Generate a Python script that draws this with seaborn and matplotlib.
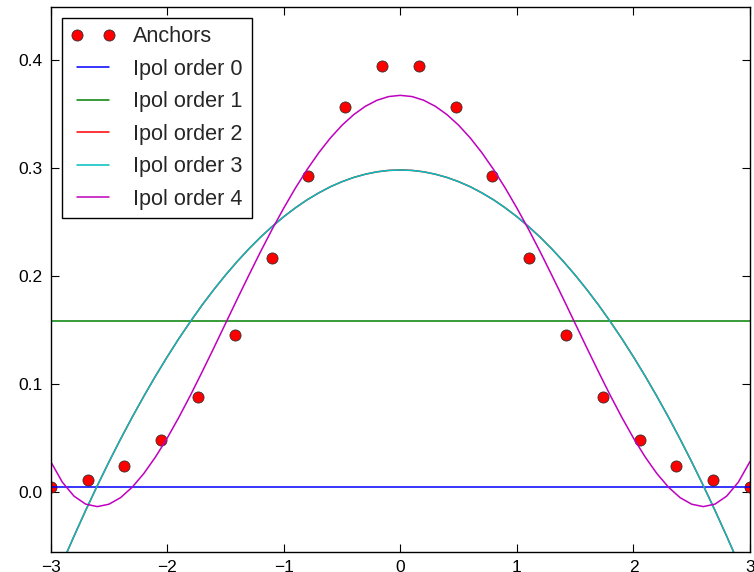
import matplotlib
matplotlib.use("Agg")
import matplotlib.pyplot as plt
import seaborn as sns

# anchor points
anchor_x = [-3.0, -2.684, -2.368, -2.053, -1.737, -1.421, -1.105, -0.789, -0.474, -0.158,
            0.158, 0.474, 0.789, 1.105, 1.421, 1.737, 2.053, 2.368, 2.684, 3.0]
anchor_y = [0.0044, 0.0109, 0.0241, 0.0486, 0.0883, 0.1453, 0.2166, 0.2921, 0.3566, 0.3940,
            0.3940, 0.3566, 0.2921, 0.2166, 0.1453, 0.0883, 0.0486, 0.0241, 0.0109, 0.0044]

# constant interpolants
order0_x = [-3.0, 3.0]
order0_y = [0.0044, 0.0044]
order1_x = [-3.0, 3.0]
order1_y = [0.158, 0.158]

# curve samples
curve_x = [-3.0, -2.9, -2.8, -2.7, -2.6, -2.5, -2.4, -2.3, -2.2, -2.1,
           -2.0, -1.9, -1.8, -1.7, -1.6, -1.5, -1.4, -1.3, -1.2, -1.1,
           -1.0, -0.9, -0.8, -0.7, -0.6, -0.5, -0.4, -0.3, -0.2, -0.1,
           0.0,
           0.1, 0.2, 0.3, 0.4, 0.5, 0.6, 0.7, 0.8, 0.9, 1.0,
           1.1, 1.2, 1.3, 1.4, 1.5, 1.6, 1.7, 1.8, 1.9, 2.0,
           2.1, 2.2, 2.3, 2.4, 2.5, 2.6, 2.7, 2.8, 2.9, 3.0]
order2_y = [-0.0908, -0.0653, -0.0407, -0.0169, 0.0060, 0.0280, 0.0492, 0.0695, 0.0889, 0.1075,
            0.1252, 0.1421, 0.1580, 0.1732, 0.1874, 0.2008, 0.2133, 0.2250, 0.2358, 0.2457,
            0.2548, 0.2630, 0.2704, 0.2768, 0.2825, 0.2872, 0.2911, 0.2941, 0.2963, 0.2976,
            0.2980,
            0.2976, 0.2963, 0.2941, 0.2911, 0.2872, 0.2825, 0.2768, 0.2704, 0.2630, 0.2548,
            0.2457, 0.2358, 0.2250, 0.2133, 0.2008, 0.1874, 0.1732, 0.1580, 0.1421, 0.1252,
            0.1075, 0.0889, 0.0695, 0.0492, 0.0280, 0.0060, -0.0169, -0.0407, -0.0653, -0.0908]
order3_y = list(order2_y)
order4_y = [0.0284, 0.0093, -0.0036, -0.0110, -0.0133, -0.0111, -0.0050, 0.0047, 0.0174, 0.0327,
            0.0501, 0.0693, 0.0898, 0.1114, 0.1335, 0.1560, 0.1785, 0.2006, 0.2223, 0.2431,
            0.2628, 0.2813, 0.2984, 0.3139, 0.3276, 0.3394, 0.3492, 0.3569, 0.3625, 0.3659,
            0.3670,
            0.3659, 0.3625, 0.3569, 0.3492, 0.3394, 0.3276, 0.3139, 0.2984, 0.2813, 0.2628,
            0.2431, 0.2223, 0.2006, 0.1785, 0.1560, 0.1335, 0.1114, 0.0898, 0.0693, 0.0501,
            0.0327, 0.0174, 0.0047, -0.0050, -0.0111, -0.0133, -0.0110, -0.0036, 0.0093, 0.0284]

sns.set_style("ticks")
plt.rcParams["font.family"] = ["Liberation Sans", "DejaVu Sans"]

fig = plt.figure(figsize=(7.54, 5.72), dpi=100)
ax = fig.add_axes([0.0672, 0.0355, 0.9275, 0.9528])

lw = 1.1
sns.lineplot(x=anchor_x, y=anchor_y, ax=ax, color="red", marker="o", linestyle="",
             markersize=8, markeredgecolor="#333333", markeredgewidth=0.6,
             label="Anchors", estimator=None, sort=False)
sns.lineplot(x=order0_x, y=order0_y, ax=ax, color="blue", lw=lw, label="Ipol order 0", estimator=None)
sns.lineplot(x=order1_x, y=order1_y, ax=ax, color="green", lw=lw, label="Ipol order 1", estimator=None)
sns.lineplot(x=curve_x, y=order2_y, ax=ax, color="red", lw=lw, label="Ipol order 2", estimator=None)
sns.lineplot(x=curve_x, y=order3_y, ax=ax, color=(0, 0.75, 0.75), lw=lw, label="Ipol order 3", estimator=None)
sns.lineplot(x=curve_x, y=order4_y, ax=ax, color=(0.75, 0, 0.75), lw=lw, label="Ipol order 4", estimator=None)

ax.set_xlim(-3, 3)
ax.set_ylim(-0.055, 0.449)
ax.set_xticks([-3, -2, -1, 0, 1, 2, 3])
ax.set_xticklabels(["\u22123", "\u22122", "\u22121", "0", "1", "2", "3"])
ax.set_yticks([0.0, 0.1, 0.2, 0.3, 0.4])
ax.tick_params(direction="in", length=5.5, width=0.8, labelsize=12.5, colors="black",
               top=True, right=True, pad=6)
for spine in ax.spines.values():
    spine.set_color("black")
    spine.set_linewidth(1.0)

leg = ax.legend(loc="upper left", numpoints=2, fontsize=15.6, frameon=True, fancybox=False,
                borderaxespad=0.5, handlelength=2.07, labelspacing=0.53, handletextpad=0.85)
leg.get_frame().set_edgecolor("black")
leg.get_frame().set_linewidth(1.0)
leg.get_frame().set_alpha(1.0)

fig.savefig("out.png", dpi=100)
